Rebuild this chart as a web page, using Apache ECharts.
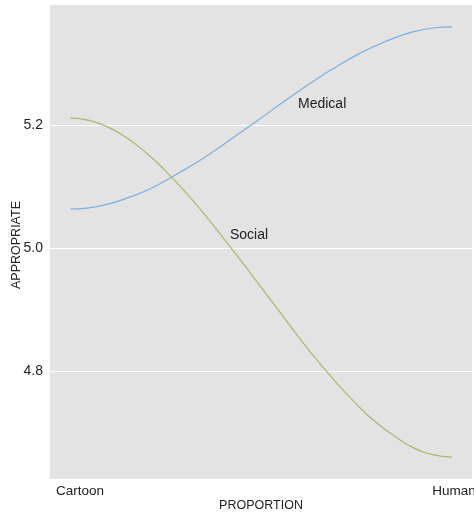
<!DOCTYPE html>
<html>
<head>
<meta charset="utf-8">
<script src="https://cdn.jsdelivr.net/npm/echarts@6/dist/echarts.min.js"></script>
<style>
  html, body { margin: 0; padding: 0; background: #fff; }
  #chart { width: 474px; height: 512px; }
</style>
</head>
<body>
<div id="chart"></div>
<script>
// Proportion runs from Cartoon (0) to Human (1)
const proportion = [0, 0.05, 0.1, 0.15, 0.2, 0.25, 0.3, 0.35, 0.4, 0.45, 0.5,
                    0.55, 0.6, 0.65, 0.7, 0.75, 0.8, 0.85, 0.9, 0.95, 1];
const endLabels = ['Cartoon', 'Human'];
const medical = [5.064, 5.066, 5.072, 5.082, 5.094, 5.110, 5.128, 5.147, 5.168, 5.190, 5.212,
                 5.234, 5.256, 5.277, 5.296, 5.314, 5.329, 5.342, 5.352, 5.358, 5.360];
const social  = [5.212, 5.208, 5.197, 5.179, 5.155, 5.126, 5.093, 5.057, 5.018, 4.978, 4.937,
                 4.896, 4.855, 4.816, 4.780, 4.747, 4.718, 4.695, 4.676, 4.665, 4.661];
const yTicks = [4.8, 5.0, 5.2];

const font = 'Liberation Sans, Arial, sans-serif';
const pairs = vals => proportion.map((p, i) => [p, vals[i]]);

const chart = echarts.init(document.getElementById('chart'), null, { renderer: 'canvas' });
chart.setOption({
  animation: false,
  backgroundColor: '#ffffff',
  grid: {
    left: 50, right: 2, top: 4, bottom: 33,
    outerBoundsMode: 'none',
    containLabel: false,
    show: true, backgroundColor: '#e3e3e3', borderWidth: 0
  },
  xAxis: {
    type: 'value',
    min: -0.0524, max: 1.0524,
    name: 'PROPORTION',
    nameLocation: 'middle',
    nameGap: 20,
    nameMoveOverlap: false,
    nameTextStyle: { fontFamily: font, fontSize: 12.5, color: '#222' },
    axisLine: { show: false },
    axisTick: { show: false },
    splitLine: { show: false },
    axisLabel: {
      customValues: [0, 1],
      margin: 5,
      fontFamily: font, fontSize: 13.5, color: '#222',
      formatter: v => v === 0 ? '{c|' + endLabels[0] + '}' : '{h|' + endLabels[1] + '}',
      rich: {
        c: { fontFamily: font, fontSize: 13.5, color: '#222', padding: [0, 0, 0, 20] },
        h: { fontFamily: font, fontSize: 13.5, color: '#222', padding: [0, 0, 0, 4] }
      }
    }
  },
  yAxis: {
    type: 'value',
    min: 4.6255, max: 5.397,
    name: 'APPROPRIATE',
    nameLocation: 'middle',
    nameGap: 27,
    nameMoveOverlap: false,
    nameTextStyle: { fontFamily: font, fontSize: 12.5, color: '#222', padding: [0, 7, 0, 0] },
    axisLine: { show: false },
    axisTick: { show: false },
    splitLine: { show: true, lineStyle: { color: '#ffffff', width: 1 } },
    axisLabel: {
      customValues: yTicks,
      margin: 7,
      fontFamily: font, fontSize: 14, color: '#222',
      formatter: v => v.toFixed(1)
    }
  },
  series: [
    {
      name: 'Medical', type: 'line', data: pairs(medical),
      smooth: 0.5, showSymbol: false,
      lineStyle: { color: '#78b0e0', width: 1.2 }
    },
    {
      name: 'Social', type: 'line', data: pairs(social),
      smooth: 0.5, showSymbol: false,
      lineStyle: { color: '#a9b96a', width: 1.2 }
    }
  ],
  graphic: [
    { type: 'text', left: 298, top: 97, style: { text: 'Medical', fontFamily: font, fontSize: 14, fill: '#222' } },
    { type: 'text', left: 230, top: 228, style: { text: 'Social', fontFamily: font, fontSize: 14, fill: '#222' } }
  ]
});
</script>
</body>
</html>
